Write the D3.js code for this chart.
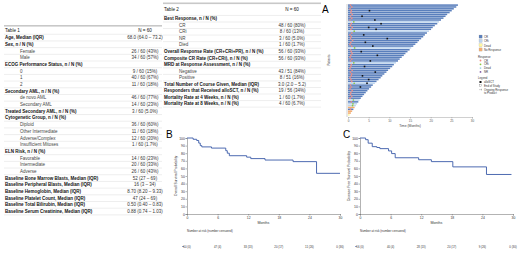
<!DOCTYPE html>
<html>
<head>
<meta charset="utf-8">
<script src="https://cdn.jsdelivr.net/npm/d3@7"></script>
<style>
  body { margin: 0; background: #fff; }
  svg { display: block; font-family: "Liberation Sans", Arial, sans-serif; }
</style>
</head>
<body>
<div id="chart"></div>
<script>
// ---- Table 1 ----
var t1Labels = ["Age, Median (IQR)", "Sex, n / N (%)", "Female", "Male",
  "ECOG Performance Status, n / N (%)", "0", "1", "2",
  "Secondary AML, n / N (%)", "de novo AML", "Secondary AML",
  "Treated Secondary AML, n / N (%)", "Cytogenetic Group, n / N (%)",
  "Diploid", "Other Intermediate", "Adverse/Complex", "Insufficient Mitoses",
  "ELN Risk, n / N (%)", "Favorable", "Intermediate", "Adverse",
  "Baseline Bone Marrow Blasts, Median (IQR)", "Baseline Peripheral Blasts, Median (IQR)",
  "Baseline Hemoglobin, Median (IQR)", "Baseline Platelet Count, Median (IQR)",
  "Baseline Total Bilirubin, Median (IQR)", "Baseline Serum Creatinine, Median (IQR)"];
var t1Values = ["68.0 (64.0 \u2013 73.2)", "", "26 / 60 (43%)", "34 / 60 (57%)",
  "", "9 / 60 (15%)", "40 / 60 (67%)", "11 / 60 (18%)",
  "", "46 / 60 (77%)", "14 / 60 (23%)",
  "3 / 60 (5.0%)", "",
  "36 / 60 (60%)", "11 / 60 (18%)", "12 / 60 (20%)", "1 / 60 (1.7%)",
  "", "14 / 60 (23%)", "20 / 60 (33%)", "26 / 60 (43%)",
  "52 (27 \u2013 69)", "16 (3 \u2013 34)", "8.70 (8.20 \u2013 9.33)", "47 (24 \u2013 69)",
  "0.50 (0.40 \u2013 0.83)", "0.88 (0.74 \u2013 1.03)"];
var t1Sub = [0,0,1,1, 0,1,1,1, 0,1,1, 0,0, 1,1,1,1, 0,1,1,1, 0,0,0,0,0,0];

// ---- Table 2 ----
var t2Labels = ["Best Response, n / N (%)", "CR", "CRi", "NR", "Died",
  "Overall Response Rate (CR+CRi+PR), n / N (%)", "Composite CR Rate (CR+CRi), n / N (%)",
  "MRD at Response Assessment, n / N (%)", "Negative", "Positive",
  "Total Number of Course Given, Median (IQR)", "Responders that Received alloSCT, n / N (%)",
  "Mortality Rate at 4 Weeks, n / N (%)", "Mortality Rate at 8 Weeks, n / N (%)"];
var t2Values = ["", "48 / 60 (80%)", "8 / 60 (13%)", "3 / 60 (5.0%)", "1 / 60 (1.7%)",
  "56 / 60 (93%)", "56 / 60 (93%)", "", "43 / 51 (84%)", "8 / 51 (16%)",
  "3.0 (2.0 \u2013 5.2)", "19 / 56 (34%)", "1 / 60 (1.7%)", "4 / 60 (6.7%)"];
var t2Sub = [0,1,1,1,1, 0,0, 0,1,1, 0,0,0,0];

// ---- Panel A: swimmer plot (months on study, per patient) ----
var swimDur = [26.6, 26.2, 25.6, 25.1, 24.6, 24.0, 23.6, 23.1, 22.5, 22.0,
  21.6, 21.0, 20.5, 20.1, 19.6, 19.1, 18.6, 18.2, 17.7, 17.2,
  16.8, 16.3, 15.8, 15.3, 14.9, 14.4, 13.9, 13.5, 13.0, 12.5,
  12.1, 11.6, 11.1, 10.7, 10.2, 9.7, 9.3, 8.8, 8.3, 7.9,
  7.4, 6.9, 6.5, 6.0, 5.6, 5.1, 4.7, 4.3, 3.9, 3.5,
  3.1, 2.8, 2.5, 2.2, 1.9, 1.6, 1.3, 1.0, 0.7, 0.4];
var swimBest = ["CR","CR","CR","CR","CR","CR","CR","CR","CR","CRi",
  "CR","CR","CR","CR","CRi","CR","CR","CR","CR","CR",
  "CR","CR","CR","CRi","CR","CR","CR","CR","CR","CR",
  "CR","CRi","CR","CR","CR","CR","CR","CR","CR","CR",
  "CR","CR","CRi","CR","CR","CR","CR","CR","CR","CR",
  "CR","CRi","CR","CRi","CRi","No Response","CR","No Response","No Response","Dead"];
var respTime = [0.6, 0.9, 0.5, 0.8, 0.7, 1.0, 0.6, 0.9, 0.5, 1.4,
  0.8, 0.6, 1.0, 0.7, 1.5, 0.9, 0.5, 0.8, 0.6, 1.1,
  0.7, 0.5, 0.9, 1.6, 0.6, 0.8, 1.0, 0.7, 0.5, 0.9,
  0.6, 1.4, 0.8, 0.7, 0.5, 1.0, 0.6, 0.9, 0.8, 0.5,
  0.7, 0.9, 1.5, 0.6, 0.8, 0.5, 1.0, 0.7, 0.6, 0.9,
  0.5, 1.3, 0.8, 1.2, 1.1, 0, 0.6, 0, 0, 0];
var sctRow = [3, 6, 8, 10, 12, 13, 16, 18, 20, 22, 25, 27, 30, 33, 36, 38, 40, 42, 44];
var sctTime = [5.2, 3.4, 6.5, 8.0, 5.0, 6.8, 3.8, 9.5, 4.2, 6.0, 3.2, 7.1, 5.4, 4.0, 6.6, 3.5, 5.0, 4.6, 3.0];

// ---- Panels B and C: Kaplan-Meier ----
var osTime = [0, 1.2, 1.9, 2.3, 2.6, 2.9, 4.8, 7.6, 7.9, 8.3, 11.7, 12.5, 15.3, 20.8, 25.4, 30];
var osSurv = [100, 98.3, 96.7, 93.3, 90.0, 88.3, 86.7, 83.3, 80.0, 76.7, 74.8, 72.9, 71.0, 68.9, 53.5, 53.5];
var dfsTime = [0, 1.1, 1.6, 2.4, 3.3, 3.9, 5.6, 6.2, 6.9, 11.5, 14.0, 18.2, 24.8, 29.7];
var dfsSurv = [100, 97.8, 93.2, 88.6, 87.5, 86.0, 83.0, 79.5, 74.0, 71.4, 68.9, 62.0, 52.0, 52.0];
var riskMonths = [0, 6, 12, 18, 24, 30];
var osRisk = ["60 (0)", "47 (4)", "33 (13)", "20 (17)", "11 (26)", "0 (36)"];
var dfsRisk = ["56 (0)", "40 (4)", "28 (13)", "20 (17)", "9 (26)", "0 (30)"];

var svg = d3.select("#chart")
  .append("svg")
  .attr("width", 520)
  .attr("height", 258);

function drawTable(title, labels, values, sub, geom) {
  var g = svg.append("g");
  var rowY = function(i) { return geom.first + i * geom.step; };

  g.append("rect")
    .attr("x", geom.L).attr("y", geom.top)
    .attr("width", geom.R - geom.L).attr("height", 1.6)
    .attr("fill", "#c8c8c8");

  g.append("text")
    .attr("x", geom.L + 1).attr("y", geom.head)
    .attr("dy", "0.35em")
    .style("font-size", "4.6px")
    .style("fill", "#111")
    .text(title);
  g.append("text")
    .attr("x", geom.valX).attr("y", geom.head)
    .attr("dy", "0.35em")
    .style("font-size", "4.6px")
    .style("text-anchor", "middle")
    .style("fill", "#111")
    .text("N = 60");

  g.selectAll("line.sep")
    .data(d3.range(labels.length + 1)).enter()
    .append("line")
    .attr("class", "sep")
    .attr("x1", geom.L).attr("x2", geom.R)
    .attr("y1", function(i) { return rowY(i) - geom.step / 2; })
    .attr("y2", function(i) { return rowY(i) - geom.step / 2; })
    .attr("stroke", "#dcdcdc")
    .attr("stroke-width", 0.5);

  g.selectAll("text.lab")
    .data(labels).enter()
    .append("text")
    .attr("class", "lab")
    .attr("x", function(d, i) { return sub[i] ? geom.L + 16 : geom.L + 1; })
    .attr("y", function(d, i) { return rowY(i); })
    .attr("dy", "0.35em")
    .style("font-size", "4.5px")
    .style("font-weight", function(d, i) { return sub[i] ? "normal" : "bold"; })
    .style("fill", function(d, i) { return sub[i] ? "#444" : "#111"; })
    .text(function(d) { return d; });

  g.selectAll("text.val")
    .data(values).enter()
    .append("text")
    .attr("class", "val")
    .attr("x", geom.valX)
    .attr("y", function(d, i) { return rowY(i); })
    .attr("dy", "0.35em")
    .style("font-size", "4.5px")
    .style("text-anchor", "middle")
    .style("fill", "#333")
    .text(function(d) { return d; });
}

drawTable("Table 1", t1Labels, t1Values, t1Sub,
  {L: 4, R: 162, valX: 145, top: 25, head: 30.8, first: 37.6, step: 6.69});
drawTable("Table 2", t2Labels, t2Values, t2Sub,
  {L: 163, R: 321, valX: 292, top: 2.5, head: 9, first: 18.7, step: 6.55});

// ---- Panel A ----
var barColor = {"CR": "#5a7fbc", "CRi": "#bcd4ee", "Dead": "#fff8a0", "No Response": "#f3ad70"};
var respColor = {"CR": "#f08a80", "CRi": "#8cc63f"};

var ax = d3.scaleLinear().domain([0, 30]).range([348, 472]);
var ay = d3.scaleBand().domain(d3.range(swimDur.length)).range([4, 116]).padding(0.18);

svg.append("text")
  .attr("x", 322).attr("y", 13)
  .style("font-size", "10px")
  .text("A");

svg.append("g")
  .selectAll("rect")
  .data(swimDur).enter()
  .append("rect")
  .attr("x", ax(0))
  .attr("y", function(d, i) { return ay(i); })
  .attr("width", function(d) { return ax(d) - ax(0); })
  .attr("height", ay.bandwidth())
  .attr("fill", function(d, i) { return barColor[swimBest[i]]; });

// response markers, one per responding patient
svg.append("g")
  .selectAll("circle")
  .data(d3.range(respTime.length).filter(function(i) { return respTime[i] > 0; })).enter()
  .append("circle")
  .attr("cx", function(i) { return ax(respTime[i]); })
  .attr("cy", function(i) { return ay(i) + ay.bandwidth() / 2; })
  .attr("r", 0.85)
  .attr("fill", function(i) { return respColor[swimBest[i]] || "#f08a80"; });

// alloSCT
svg.append("g")
  .selectAll("rect")
  .data(sctRow).enter()
  .append("rect")
  .attr("x", function(d, i) { return ax(sctTime[i]) - 0.8; })
  .attr("y", function(d) { return ay(d) + ay.bandwidth() / 2 - 0.8; })
  .attr("width", 1.6).attr("height", 1.6)
  .attr("fill", "#111");

var aAxis = svg.append("g")
  .attr("transform", "translate(0,117)")
  .call(d3.axisBottom(ax).tickValues([0, 5, 10, 15, 20, 25, 30]).tickSize(1.5));
aAxis.selectAll("text").style("font-size", "3px").attr("y", 2.5).style("fill", "#555");
aAxis.selectAll("line,path").attr("stroke", "#888").attr("stroke-width", 0.4);

svg.append("line")
  .attr("x1", ax(0) - 1).attr("x2", ax(0) - 1)
  .attr("y1", 4).attr("y2", 117)
  .attr("stroke", "#888").attr("stroke-width", 0.4);

svg.append("text")
  .attr("x", (ax(0) + ax(30)) / 2).attr("y", 127)
  .style("font-size", "3.4px").style("text-anchor", "middle").style("fill", "#444")
  .text("Time (Months)");
svg.append("text")
  .attr("transform", "translate(330,60) rotate(-90)")
  .style("font-size", "3px").style("text-anchor", "middle").style("fill", "#444")
  .text("Patients");

// legend for A
var legBest = ["CR", "CRi", "Dead", "No Response"];
var lg = svg.append("g").style("font-size", "2.8px").style("fill", "#333");
lg.selectAll("rect.sw")
  .data(legBest).enter()
  .append("rect")
  .attr("x", 479).attr("y", function(d, i) { return 35 + i * 4.3; })
  .attr("width", 3.2).attr("height", 3.2)
  .attr("fill", function(d) { return barColor[d]; })
  .attr("stroke", "#999").attr("stroke-width", 0.2);
lg.selectAll("text.sw")
  .data(legBest).enter()
  .append("text")
  .attr("x", 484).attr("y", function(d, i) { return 37.9 + i * 4.3; })
  .text(function(d) { return d; });

var legResp = ["CR", "CRi", "Dead", "NR"];
var legRespColor = ["#f08a80", "#8cc63f", "#9fd3e8", "#7e5ba6"];
lg.append("text").attr("x", 478).attr("y", 57.5).text("Response");
lg.selectAll("circle.rs")
  .data(legResp).enter()
  .append("circle")
  .attr("cx", 480.5).attr("cy", function(d, i) { return 60.5 + i * 3.8; })
  .attr("r", 0.9)
  .attr("fill", function(d, i) { return legRespColor[i]; });
lg.selectAll("text.rs")
  .data(legResp).enter()
  .append("text")
  .attr("x", 484).attr("y", function(d, i) { return 61.5 + i * 3.8; })
  .text(function(d) { return d; });

lg.append("text").attr("x", 478).attr("y", 79).text("Legend");
lg.append("rect").attr("x", 479.5).attr("y", 81).attr("width", 2).attr("height", 2).attr("fill", "#111");
lg.append("text").attr("x", 484).attr("y", 83).text("alloSCT");
lg.append("rect").attr("x", 479.5).attr("y", 84.8).attr("width", 2).attr("height", 2)
  .attr("fill", "#fff").attr("stroke", "#666").attr("stroke-width", 0.3);
lg.append("text").attr("x", 484).attr("y", 86.8).text("End of Study");
lg.append("path").attr("d", "M479,89.6 L482,89.6 M481,88.8 L482,89.6 L481,90.4")
  .attr("stroke", "#666").attr("stroke-width", 0.3).attr("fill", "none");
lg.append("text").attr("x", 484).attr("y", 90.6).text("Ongoing Response");
lg.append("text").attr("x", 484).attr("y", 94).text("to Product");

// ---- Panels B and C ----
function drawKM(letter, letterX, times, surv, risk, yLabel, x0, x1) {
  var x = d3.scaleLinear().domain([0, 30]).range([x0, x1]);
  var y = d3.scaleLinear().domain([0, 100]).range([214, 138]);
  var g = svg.append("g");

  g.append("text")
    .attr("x", letterX).attr("y", 138)
    .style("font-size", "10px")
    .text(letter);

  var xAxis = g.append("g")
    .attr("transform", "translate(0,214)")
    .call(d3.axisBottom(x).tickValues(riskMonths).tickSize(1.5));
  var yAxis = g.append("g")
    .attr("transform", "translate(" + x0 + ",0)")
    .call(d3.axisLeft(y).tickValues(d3.range(0, 101, 10)).tickSize(1.5));
  g.selectAll(".tick text").style("font-size", "3.4px").style("fill", "#333");
  xAxis.selectAll(".tick text").attr("y", 2.5);
  yAxis.selectAll(".tick text").attr("x", -2.2);
  g.selectAll(".domain, .tick line").attr("stroke", "#666").attr("stroke-width", 0.5);

  var line = d3.line()
    .curve(d3.curveStepAfter)
    .x(function(d, i) { return x(times[i]); })
    .y(function(d) { return y(d); });
  g.append("path")
    .datum(surv)
    .attr("d", line)
    .attr("fill", "none")
    .attr("stroke", "#3a5aa8")
    .attr("stroke-width", 0.9);

  g.append("text")
    .attr("x", (x0 + x1) / 2).attr("y", 224)
    .style("font-size", "3.6px").style("text-anchor", "middle").style("fill", "#333")
    .text("Months");
  g.append("text")
    .attr("transform", "translate(" + (x0 - 10) + ",176) rotate(-90)")
    .style("font-size", "3.4px").style("text-anchor", "middle").style("fill", "#333")
    .text(yLabel);
  g.append("text")
    .attr("x", x0).attr("y", 232)
    .style("font-size", "3px").style("fill", "#333")
    .text("Number at risk (number censored)");

  g.append("line")
    .attr("x1", x0 - 5).attr("x2", x0 - 3)
    .attr("y1", 246.5).attr("y2", 246.5)
    .attr("stroke", "#3a5aa8").attr("stroke-width", 0.6);
  g.selectAll("text.risk")
    .data(risk).enter()
    .append("text")
    .attr("class", "risk")
    .attr("x", function(d, i) { return x(riskMonths[i]); })
    .attr("y", 247.5)
    .style("font-size", "2.8px").style("text-anchor", "middle").style("fill", "#333")
    .text(function(d) { return d; });
}

drawKM("B", 166, osTime, osSurv, osRisk, "Overall Survival Probability", 187, 340);
drawKM("C", 343, dfsTime, dfsSurv, dfsRisk, "Disease Free Survival Probability", 360, 513);
</script>
</body>
</html>
